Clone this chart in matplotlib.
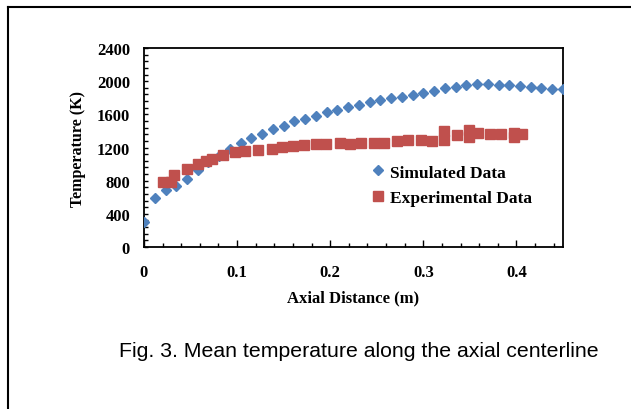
import matplotlib
matplotlib.use("Agg")
import matplotlib.pyplot as plt
from matplotlib.ticker import MultipleLocator
from matplotlib.lines import Line2D

# simulated temperature along the axis
sim_x = [0.0000, 0.0115, 0.0231, 0.0346, 0.0462, 0.0577, 0.0692, 0.0808, 0.0923, 0.1038,
         0.1154, 0.1269, 0.1385, 0.1500, 0.1615, 0.1731, 0.1846, 0.1962, 0.2077, 0.2192,
         0.2308, 0.2423, 0.2538, 0.2654, 0.2769, 0.2885, 0.3000, 0.3115, 0.3231, 0.3346,
         0.3462, 0.3577, 0.3692, 0.3808, 0.3923, 0.4038, 0.4154, 0.4269, 0.4385, 0.4500]
sim_T = [298, 595, 691, 739, 820, 925, 1021, 1094, 1178, 1254,
         1311, 1363, 1419, 1463, 1516, 1549, 1585, 1625, 1654, 1686,
         1718, 1751, 1770, 1794, 1811, 1836, 1855, 1879, 1912, 1932,
         1952, 1969, 1965, 1952, 1950, 1936, 1924, 1912, 1903, 1903]

# experimental measurements
exp_x = [0.020, 0.029, 0.032, 0.046, 0.058, 0.067, 0.073, 0.085, 0.098, 0.109,
         0.122, 0.137, 0.148, 0.160, 0.172, 0.185, 0.196, 0.210, 0.221, 0.233,
         0.247, 0.258, 0.272, 0.284, 0.298, 0.309, 0.322, 0.322, 0.336, 0.349,
         0.349, 0.359, 0.372, 0.383, 0.397, 0.397, 0.406]
exp_T = [790, 783, 868, 944, 1004, 1037, 1057, 1109, 1141, 1162,
         1170, 1186, 1206, 1218, 1234, 1238, 1246, 1250, 1246, 1258,
         1258, 1258, 1274, 1291, 1295, 1283, 1395, 1286, 1355, 1407,
         1327, 1379, 1367, 1367, 1379, 1327, 1363]

blue = "#4F81BD"
red = "#C0504D"
serif = "Liberation Serif"

fig = plt.figure(figsize=(6.31, 4.10), dpi=100)
ax = fig.add_axes([0.2282, 0.3951, 0.6640, 0.4854])

ax.plot(sim_x, sim_T, linestyle="none", marker="D", ms=5.5, color=blue,
        mec=blue, label="Simulated Data", zorder=3)
ax.plot(exp_x, exp_T, linestyle="none", marker="s", ms=6.5, color=red,
        mec=red, label="Experimental Data", zorder=3)

ax.set_xlim(0, 0.45)
ax.set_ylim(0, 2400)
ax.xaxis.set_major_locator(MultipleLocator(0.1))
ax.xaxis.set_minor_locator(MultipleLocator(0.02))
ax.yaxis.set_major_locator(MultipleLocator(400))
ax.yaxis.set_minor_locator(MultipleLocator(80))
ax.set_xticks([0, 0.1, 0.2, 0.3, 0.4])
ax.set_xticklabels(["0", "0.1", "0.2", "0.3", "0.4"])

ax.tick_params(which="both", direction="in", width=1.0)
ax.tick_params(axis="x", which="major", length=5, pad=12)
ax.tick_params(axis="x", which="minor", length=3)
ax.tick_params(axis="y", which="major", length=3, pad=10)
ax.tick_params(axis="y", which="minor", length=3)
for lab in ax.get_xticklabels() + ax.get_yticklabels():
    lab.set_family(serif)
    lab.set_fontweight("bold")
    lab.set_fontsize(12)
for s in ax.spines.values():
    s.set_linewidth(1.3)

ax.set_xlabel("Axial Distance (m)", family=serif, fontweight="bold", fontsize=12, labelpad=7)
ax.set_ylabel("Temperature (K)", family=serif, fontweight="bold", fontsize=11.5, labelpad=8)

ax.legend(loc="center left", bbox_to_anchor=(0.5, 0.31), frameon=False,
          prop={"family": serif, "weight": "bold", "size": 12.5},
          handlelength=1.0, handletextpad=0.2, labelspacing=0.55)

fig.text(0.569, 0.143, "Fig. 3. Mean temperature along the axial centerline",
         ha="center", va="center", family="Liberation Sans", fontsize=15.3)

# outer frame lines of the page crop
fig.add_artist(Line2D([8 / 631, 8 / 631], [0, 1 - 8 / 410], color="black", lw=1.5,
                      transform=fig.transFigure))
fig.add_artist(Line2D([8 / 631, 1], [1 - 8 / 410, 1 - 8 / 410], color="black", lw=1.5,
                      transform=fig.transFigure))

fig.savefig("out.png", dpi=100)
